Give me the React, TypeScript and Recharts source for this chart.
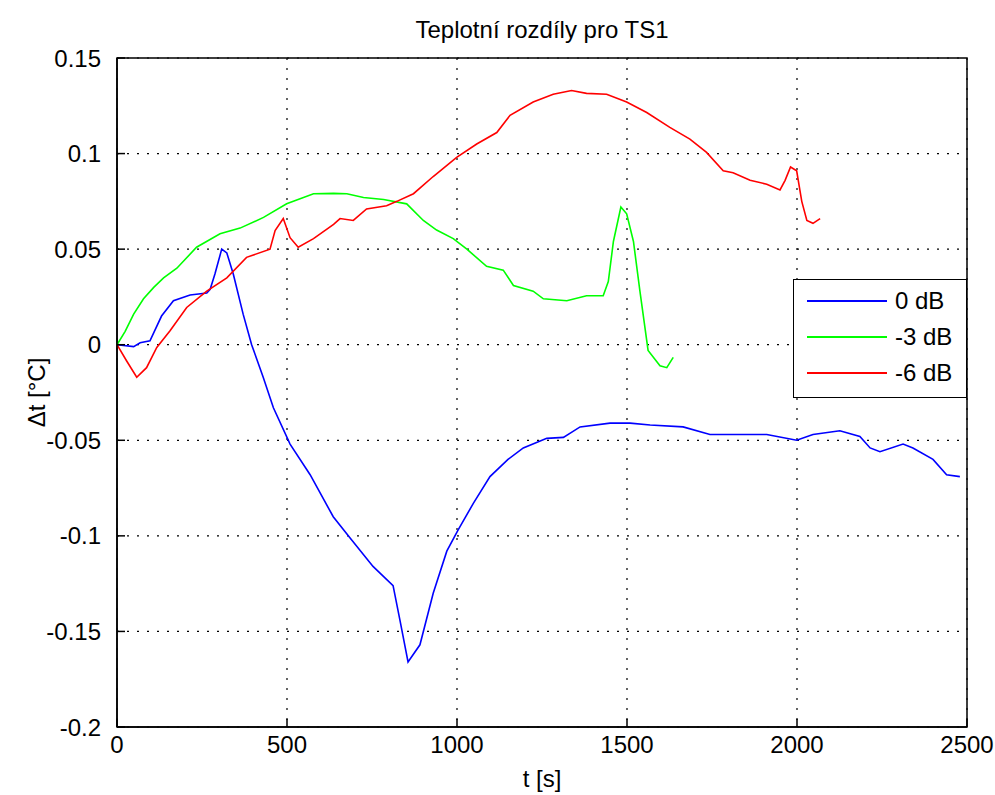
import { LineChart, Line, XAxis, YAxis, CartesianGrid, ReferenceArea } from "recharts";

const xTicks = [0, 500, 1000, 1500, 2000, 2500];
const yTicks = [-0.2, -0.15, -0.1, -0.05, 0, 0.05, 0.1, 0.15];
const yTickLabels = ["-0.2", "-0.15", "-0.1", "-0.05", "0", "0.05", "0.1", "0.15"];

const seriesNames = ["0 dB", "-3 dB", "-6 dB"];
const seriesColors = ["#0000ff", "#00ff00", "#ff0000"];

const t0dB = [0, 49, 68, 97, 131, 166, 215, 264, 274, 288, 308, 323, 342, 371, 396, 430, 460, 509, 568, 636, 685, 753, 812, 832, 856, 891, 930, 970, 1003, 1048, 1097, 1150, 1195, 1264, 1313, 1362, 1450, 1509, 1568, 1665, 1744, 1832, 1911, 1999, 2047, 2126, 2185, 2215, 2244, 2312, 2341, 2400, 2440, 2479];
const v0dB = [0, -0.001, 0.001, 0.002, 0.015, 0.023, 0.026, 0.027, 0.029, 0.037, 0.05, 0.048, 0.037, 0.016, 0, -0.017, -0.033, -0.052, -0.068, -0.09, -0.101, -0.116, -0.126, -0.144, -0.166, -0.157, -0.13, -0.108, -0.097, -0.083, -0.069, -0.06, -0.054, -0.049, -0.0485, -0.043, -0.041, -0.041, -0.042, -0.043, -0.047, -0.047, -0.047, -0.05, -0.047, -0.045, -0.048, -0.054, -0.056, -0.052, -0.054, -0.06, -0.068, -0.069];

const t3dB = [0, 24, 49, 78, 108, 137, 176, 234, 303, 362, 431, 499, 578, 637, 676, 725, 784, 852, 901, 940, 989, 1029, 1087, 1136, 1166, 1224, 1254, 1323, 1381, 1430, 1445, 1460, 1482, 1499, 1519, 1538, 1562, 1597, 1617, 1636];
const v3dB = [0, 0.007, 0.016, 0.024, 0.03, 0.035, 0.04, 0.051, 0.058, 0.061, 0.0666, 0.0737, 0.079, 0.0792, 0.079, 0.077, 0.076, 0.0737, 0.065, 0.06, 0.0555, 0.05, 0.041, 0.039, 0.031, 0.028, 0.024, 0.023, 0.0256, 0.0256, 0.033, 0.054, 0.072, 0.0685, 0.054, 0.028, -0.003, -0.011, -0.012, -0.0066];

const t6dB = [0, 28, 58, 87, 117, 156, 205, 264, 323, 381, 450, 465, 489, 509, 533, 578, 637, 656, 695, 734, 793, 823, 872, 930, 999, 1058, 1117, 1156, 1224, 1283, 1337, 1381, 1440, 1499, 1558, 1626, 1685, 1734, 1783, 1812, 1862, 1911, 1950, 1965, 1981, 1999, 2014, 2029, 2047, 2068];
const v6dB = [0, -0.0084, -0.017, -0.012, -0.0014, 0.0073, 0.0195, 0.028, 0.035, 0.0457, 0.05, 0.0597, 0.066, 0.056, 0.051, 0.0555, 0.063, 0.066, 0.065, 0.071, 0.0727, 0.075, 0.079, 0.088, 0.098, 0.105, 0.111, 0.12, 0.127, 0.131, 0.133, 0.1315, 0.131, 0.127, 0.1215, 0.1137, 0.1076, 0.1006, 0.091, 0.09, 0.086, 0.084, 0.081, 0.086, 0.093, 0.091, 0.075, 0.065, 0.0635, 0.066];

const toRows = (ts: number[], vs: number[]) => ts.map((t, i) => ({ t, v: vs[i] }));
const series = [toRows(t0dB, v0dB), toRows(t3dB, v3dB), toRows(t6dB, v6dB)];

const FONT = '"Liberation Sans", Arial, sans-serif';
const TICK_LEN = 8;

const BottomTick = ({ x, y, payload }: any) => (
  <g>
    <line x1={x} y1={y} x2={x} y2={y - TICK_LEN} stroke="#000" strokeWidth={1.5} />
    <text x={x} y={y + 17} textAnchor="middle" dominantBaseline="central" fontSize={24} fontFamily={FONT} fill="#000">
      {payload.value}
    </text>
  </g>
);

const TopTick = ({ x, y }: any) => (
  <line x1={x} y1={y + 1} x2={x} y2={y + 1 + TICK_LEN} stroke="#000" strokeWidth={1.5} />
);

const LeftTick = ({ x, y, payload }: any) => {
  const idx = yTicks.indexOf(payload.value);
  return (
    <g>
      <line x1={x} y1={y} x2={x + TICK_LEN} y2={y} stroke="#000" strokeWidth={1.5} />
      <text x={x - 16} y={y} textAnchor="end" dominantBaseline="central" fontSize={24} fontFamily={FONT} fill="#000">
        {idx >= 0 ? yTickLabels[idx] : payload.value}
      </text>
    </g>
  );
};

const RightTick = ({ x, y }: any) => (
  <line x1={x} y1={y} x2={x - TICK_LEN} y2={y} stroke="#000" strokeWidth={1.5} />
);

export default function App() {
  return (
    <div style={{ position: "absolute", left: 0, top: 0, width: 995, height: 795, background: "#fff" }}>
      <div
        style={{
          position: "absolute",
          left: 117,
          width: 850,
          top: 17,
          textAlign: "center",
          fontFamily: FONT,
          fontSize: 24,
          lineHeight: "26px",
        }}
      >
        Teplotní rozdíly pro TS1
      </div>
      <LineChart width={995} height={795} margin={{ top: 57, right: 27, bottom: 0, left: 0 }}>
        <CartesianGrid stroke="#000" strokeDasharray="2 8" strokeWidth={1.2} />
        <XAxis
          type="number"
          dataKey="t"
          domain={[0, 2500]}
          ticks={xTicks}
          interval={0}
          height={68}
          tickSize={0}
          tickMargin={0}
          tickLine={false}
          axisLine={{ stroke: "#000", strokeWidth: 1.5 }}
          tick={BottomTick}
          allowDuplicatedCategory={false}
          label={{ value: "t [s]", position: "insideBottom", offset: 8, style: { fontFamily: FONT, fontSize: 24, fill: "#000" } }}
        />
        <XAxis
          xAxisId="top"
          orientation="top"
          type="number"
          domain={[0, 2500]}
          ticks={xTicks}
          interval={0}
          height={1}
          tickSize={0}
          tickMargin={0}
          tickLine={false}
          axisLine={false}
          tick={TopTick}
        />
        <YAxis
          type="number"
          domain={[-0.2, 0.15]}
          ticks={yTicks}
          interval={0}
          width={117}
          tickSize={0}
          tickMargin={0}
          tickLine={false}
          axisLine={{ stroke: "#000", strokeWidth: 1.5 }}
          tick={LeftTick}
          label={{
            value: "Δt [°C]",
            angle: -90,
            position: "insideLeft",
            offset: 36,
            style: { fontFamily: FONT, fontSize: 24, fill: "#000", textAnchor: "middle" },
          }}
        />
        <YAxis
          yAxisId="right"
          orientation="right"
          type="number"
          domain={[-0.2, 0.15]}
          ticks={yTicks}
          interval={0}
          width={1}
          tickSize={0}
          tickMargin={0}
          tickLine={false}
          axisLine={false}
          tick={RightTick}
        />
        <ReferenceArea
          x1={0}
          x2={2500}
          y1={-0.2}
          y2={0.15}
          fill="none"
          fillOpacity={0}
          stroke="#000"
          strokeWidth={1.5}
          ifOverflow="visible"
        />
        {series.map((rows, i) => (
          <Line
            key={seriesNames[i]}
            data={rows}
            dataKey="v"
            name={seriesNames[i]}
            type="linear"
            stroke={seriesColors[i]}
            strokeWidth={1.6}
            dot={false}
            activeDot={false}
            isAnimationActive={false}
          />
        ))}
      </LineChart>
      <div
        style={{
          position: "absolute",
          left: 793,
          top: 279,
          width: 174,
          height: 119,
          border: "1.5px solid #000",
          background: "#fff",
          boxSizing: "border-box",
          paddingTop: 3,
          fontFamily: FONT,
          fontSize: 24,
        }}
      >
        {seriesNames.map((name, i) => (
          <div key={name} style={{ display: "flex", alignItems: "center", height: 36 }}>
            <div style={{ width: 80, height: 2, background: seriesColors[i], marginLeft: 13, marginRight: 8 }} />
            <span>{name}</span>
          </div>
        ))}
      </div>
    </div>
  );
}
